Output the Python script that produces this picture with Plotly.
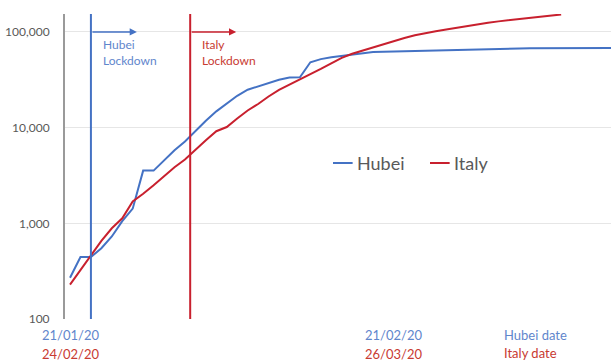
import plotly.graph_objects as go

# Cumulative confirmed cases, one value per day since each region's start date
hubei_start = "21/01/20"
italy_start = "24/02/20"
hubei_cases = [
    270, 444, 444, 549, 729, 1052, 1423, 3554, 3554, 4586,
    5806, 7153, 9300, 11800, 14800, 18000, 21500, 24900, 27100, 29600,
    31700, 33400, 33600, 48200, 52000, 54400, 56200, 58200, 60000, 61700,
    62000, 62400, 62700, 64100, 64300, 64800, 65200, 65600, 65900, 66300,
    66900, 67100, 67200, 67300, 67500, 67600, 67700, 67700, 67740, 67760,
    67770, 67780, 67790,
]
italy_cases = [
    229, 322, 453, 655, 888, 1128, 1694, 2036, 2502, 3089,
    3858, 4636, 5883, 7375, 9172, 10149, 12462, 15113, 17660, 21157,
    24747, 27980, 31506, 35713, 41035, 47021, 53578, 59138, 63927, 69176,
    74386, 80589, 86498, 92472, 97689, 101739, 105792, 110574, 115242, 119827,
    124632, 128948, 132547, 135586, 139422, 143626, 147577, 152271,
]

# Lockdown markers (days after each start date)
hubei_lockdown_day = 2
italy_lockdown_day = 11.5

# Date labels under the axis: (day offset, Hubei date, Italy date)
date_labels = [(0, "21/01/20", "24/02/20"), (31, "21/02/20", "26/03/20")]

y_tickvals = [100, 1000, 10000, 100000]
y_ticktext = ["100", "1,000", "10,000", "100,000"]

BLUE = "#4472C4"
RED = "#C8202E"
BLUE_TXT = "#5F86CC"
RED_TXT = "#C83A32"
FONT = "Lato"

fig = go.Figure()
fig.add_trace(go.Scatter(x=list(range(len(hubei_cases))), y=hubei_cases, mode="lines",
                         name="Hubei", line=dict(color=BLUE, width=2)))
fig.add_trace(go.Scatter(x=list(range(len(italy_cases))), y=italy_cases, mode="lines",
                         name="Italy", line=dict(color=RED, width=2)))

# Lockdown vertical lines
for day, col in [(hubei_lockdown_day, BLUE), (italy_lockdown_day, RED)]:
    fig.add_shape(type="line", xref="x", yref="paper", x0=day, x1=day, y0=0, y1=1,
                  line=dict(color=col, width=2))

annotations = []
# Arrows and captions next to each lockdown line
for day, col, tcol, label in [(hubei_lockdown_day, BLUE, BLUE_TXT, "Hubei<br>Lockdown"),
                              (italy_lockdown_day, RED, RED_TXT, "Italy<br>Lockdown")]:
    annotations.append(dict(x=day + 4.4, y=5.0, xref="x", yref="y", text="",
                            showarrow=True, ax=day, ay=5.0, axref="x", ayref="y",
                            arrowhead=2, arrowsize=0.9, arrowwidth=1.6, arrowcolor=col,
                            standoff=0, startstandoff=0))
    annotations.append(dict(x=day + 0.95, y=4.97, xref="x", yref="y", text=label,
                            showarrow=False, xanchor="left", yanchor="top", align="left",
                            font=dict(family=FONT, size=12, color=tcol)))

# Date labels below the plot
for day, hd, itd in date_labels:
    annotations.append(dict(x=day, y=-0.053, xref="x", yref="paper", text=hd, showarrow=False,
                            xanchor="center", yanchor="middle",
                            font=dict(family=FONT, size=13, color=BLUE_TXT)))
    annotations.append(dict(x=day, y=-0.115, xref="x", yref="paper", text=itd, showarrow=False,
                            xanchor="center", yanchor="middle",
                            font=dict(family=FONT, size=13, color=RED_TXT)))
annotations.append(dict(x=0.801, y=-0.053, xref="paper", yref="paper", text="Hubei date",
                        showarrow=False, xanchor="left", yanchor="middle",
                        font=dict(family=FONT, size=13, color=BLUE_TXT)))
annotations.append(dict(x=0.801, y=-0.112, xref="paper", yref="paper", text="Italy date",
                        showarrow=False, xanchor="left", yanchor="middle",
                        font=dict(family=FONT, size=13, color=RED_TXT)))

# Legend drawn inside the plot area
legend_y = 0.5115
for x0, col, name in [(0.4908, BLUE, "Hubei"), (0.6685, RED, "Italy")]:
    fig.add_shape(type="line", xref="paper", yref="paper", x0=x0, x1=x0 + 0.036,
                  y0=legend_y, y1=legend_y, line=dict(color=col, width=2))
    annotations.append(dict(x=x0 + 0.040, y=legend_y, xref="paper", yref="paper", text=name,
                            showarrow=False, xanchor="left", yanchor="middle",
                            font=dict(family=FONT, size=18, color="#595959")))

fig.update_layout(
    width=611, height=363,
    margin=dict(l=65, r=0, t=14, b=44),
    paper_bgcolor="white", plot_bgcolor="white",
    showlegend=False,
    annotations=annotations,
    xaxis=dict(range=[-0.48, 51.77], showticklabels=False, showgrid=False, zeroline=False,
               showline=False, ticks=""),
    yaxis=dict(type="log", range=[2, 5.1875], tickvals=y_tickvals, ticktext=y_ticktext,
               showgrid=True, gridcolor="#E6E6E6", gridwidth=1, zeroline=False,
               showline=True, linecolor="#9A9A9A", linewidth=2, ticks="",
               ticklabelstandoff=11,
               tickfont=dict(family=FONT, size=12, color="#595959")),
)

fig.write_html("out.html")
